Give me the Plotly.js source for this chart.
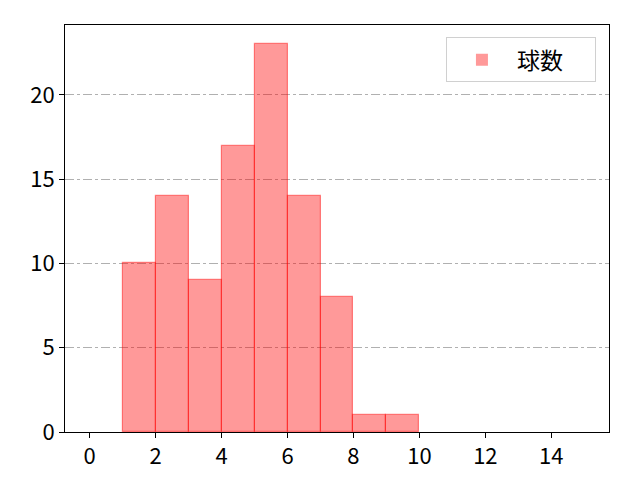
<!DOCTYPE html>
<html><head><meta charset="utf-8">
<script src="https://cdn.plot.ly/plotly-3.0.1.min.js"></script>
<style>body{margin:0}#c{width:640px;height:480px}</style>
</head><body><div id="c"></div>
<script>
const binStarts = [0,1,2,3,4,5,6,7,8,9,10,11,12,13,14];
const counts = [0,10,14,9,17,23,14,8,1,1,0,0,0,0,0];
const seriesName = '球数';
const xTicks = [0,2,4,6,8,10,12,14];
const yTicks = [0,5,10,15,20];

const centers = binStarts.map(b => b + 0.5);
const fam = '"Noto Sans CJK JP", "Noto Sans", sans-serif';
const font = {family: fam, size: 22, color: '#000'};
Plotly.newPlot('c', [{
  type: 'bar', x: centers, y: counts, width: 1, name: seriesName,
  marker: {color: 'rgba(255,0,0,0.4)',
    line: {color: 'rgba(255,0,0,0.45)', width: counts.map(c => c > 0 ? 1.2 : 0)}},
  showlegend: true
}], {
  width: 640, height: 480,
  margin: {l: 65, r: 31, t: 25, b: 48},
  paper_bgcolor: '#fff', plot_bgcolor: '#fff',
  font: font,
  xaxis: {range: [-0.75, 15.75], tickvals: xTicks, ticktext: xTicks.map(String),
    ticks: 'outside', ticklen: 5, tickcolor: '#000', showline: true, linecolor: '#000', linewidth: 1,
    mirror: true, showgrid: false, zeroline: false, tickfont: font},
  yaxis: {range: [0, 24.15], tickvals: yTicks, ticktext: yTicks.map(String),
    ticks: 'outside', ticklen: 5, tickcolor: '#000', showline: true, linecolor: '#000', linewidth: 1,
    mirror: true, showgrid: true, gridcolor: '#b0b0b0', griddash: 'dashdot', gridwidth: 0.8,
    zeroline: false, tickfont: font},
  legend: {orientation: 'h', x: 0.976, y: 0.97, xanchor: 'right', yanchor: 'top',
    bordercolor: '#d0d0d0', borderwidth: 1,
    bgcolor: 'rgba(255,255,255,0.8)', font: {family: fam, size: 23, color: '#000'},
    itemwidth: 60, entrywidth: 73},
  bargap: 0
}, {displayModeBar: false});
</script></body></html>
